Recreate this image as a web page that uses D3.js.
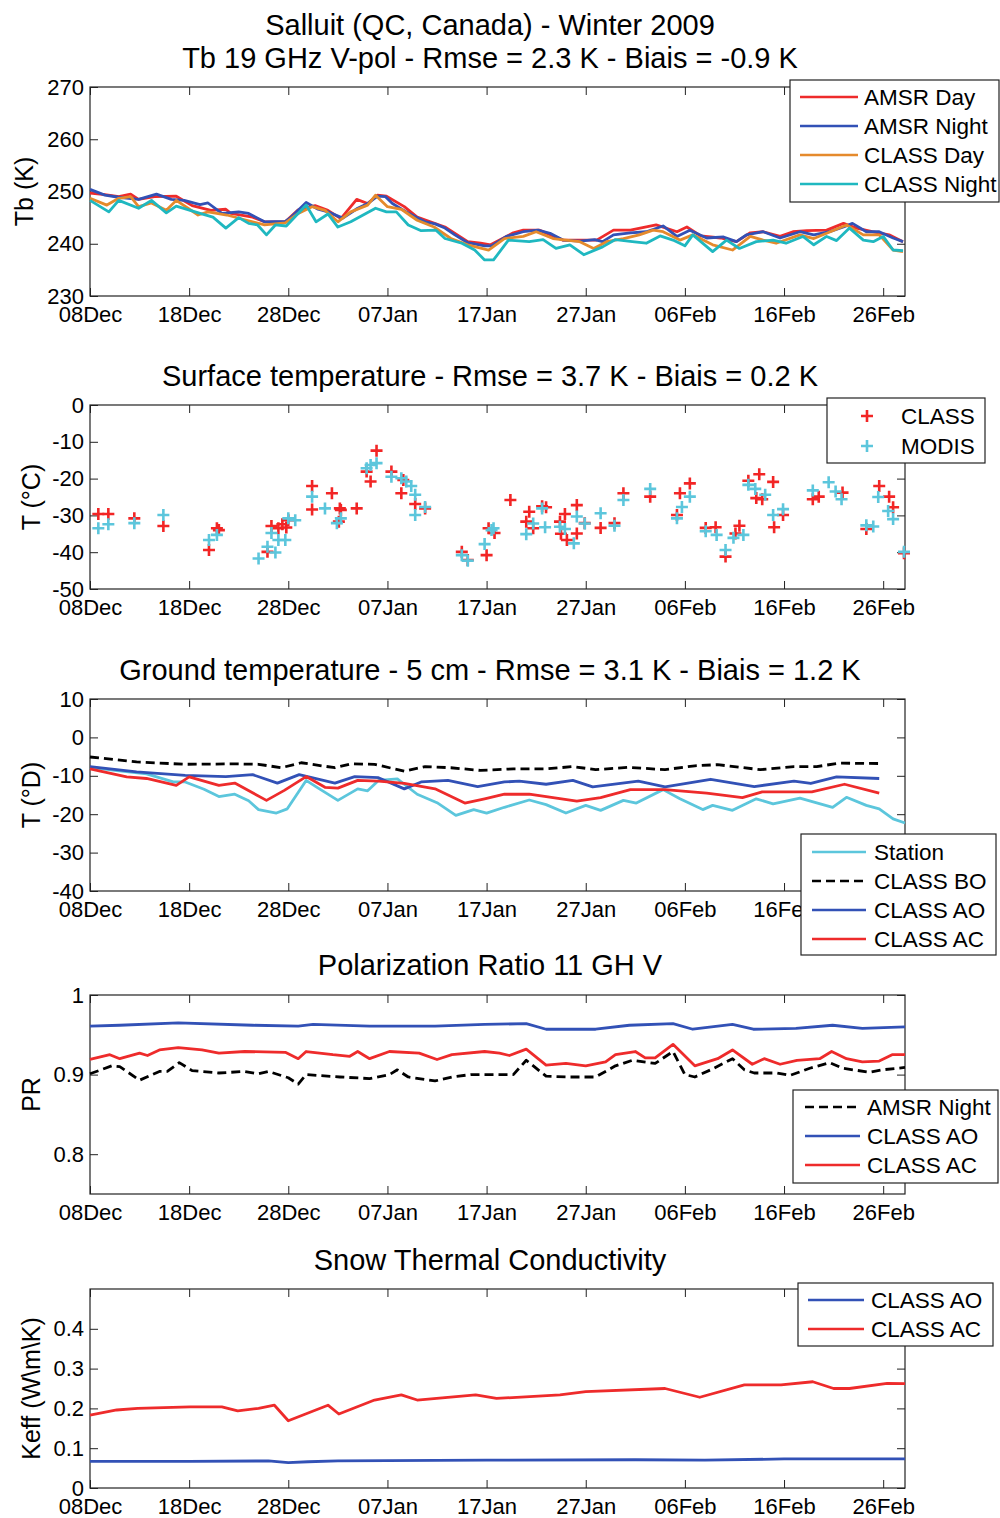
<!DOCTYPE html>
<html>
<head>
<meta charset="utf-8">
<script src="https://cdnjs.cloudflare.com/ajax/libs/d3/7.8.5/d3.min.js"></script>
<style>
    body { margin: 0; background: #fff; }
    svg text { font-family: "Liberation Sans", Arial, Helvetica, sans-serif; fill: #000; }
</style>
</head>
<body>
<div id="chart"></div>
<script>
// x values are days since 08 Dec 2008
const tickDays = [0, 10, 20, 30, 40, 50, 60, 70, 80];
const tickLabels = ["08Dec", "18Dec", "28Dec", "07Jan", "17Jan", "27Jan", "06Feb", "16Feb", "26Feb"];

// ---- panel 1 : Tb 19 GHz V-pol (K)
const tbAmsrDay = [[0,249.7],[1.5,249.4],[2.9,249.0],[4.1,249.5],[4.9,248.5],[6.5,249.0],[8.7,249.1],[10.3,247.3],[12.2,246.4],[13.7,246.6],[14.2,245.8],[16.4,245.1],[17.6,244.2],[19.7,244.2],[21,246.5],[22.7,247.3],[24,246.4],[25.3,244.8],[26.9,248.5],[28,247.7],[29,249.3],[29.9,249.1],[31.7,247.1],[33,245.1],[35.8,243.2],[38.1,240.4],[39.4,240.1],[40.4,239.8],[42.7,242.1],[43.7,242.6],[45.3,242.6],[47.7,240.7],[49.4,240.7],[51.1,240.7],[52.8,242.6],[54.5,242.6],[57.1,243.6],[59.2,242.3],[60.2,243.2],[61.6,241.5],[63.6,241.1],[65.2,240.4],[66.6,242.1],[67.9,242.3],[69.6,241.4],[70.9,242.3],[72.3,242.5],[74.3,242.6],[76,243.9],[77.3,243.0],[78.9,242.3],[80.6,241.7],[82,240.4]];
const tbAmsrNight = [[0,250.4],[1.5,249.3],[2.9,248.9],[4.9,248.5],[6.7,249.5],[8.2,248.5],[9.5,248.3],[11.1,247.5],[11.9,247.8],[13.3,245.8],[15,246.1],[16,245.8],[17.6,244.2],[19.7,244.3],[20.3,245.1],[21.8,247.9],[23,246.6],[24,246.1],[25.5,244.9],[27,246.8],[28,247.7],[29,249.1],[29.8,249.0],[30.5,247.7],[31.9,246.1],[33.8,244.2],[34.8,243.8],[35.8,243.0],[36.8,241.7],[38.1,240.2],[39.8,239.6],[40.5,239.6],[42,241.4],[43.7,242.3],[45.2,242.6],[46.4,242.0],[47.7,240.7],[49.4,240.5],[50.9,240.8],[51.7,240.4],[52.8,241.7],[54.5,242.1],[56.1,242.3],[57.8,243.4],[59.2,241.4],[60.5,242.6],[62.2,241.1],[63.9,241.3],[65.2,240.4],[66.2,241.7],[67.9,242.3],[69.6,241.1],[71.6,242.3],[73,241.7],[74.6,242.3],[76,243.2],[76.9,243.9],[78.3,242.3],[79.6,242.3],[81,241.1],[82,240.4]];
const tbClassDay = [[0,248.7],[1.7,247.4],[2.9,248.7],[4.1,249.0],[4.9,247.1],[6.2,247.8],[7.7,246.4],[8.7,248.3],[10.9,245.5],[11.9,246.1],[13.8,245.5],[15.8,244.5],[17.6,243.6],[19.7,244.0],[21,245.8],[22.4,247.1],[23.7,246.4],[25,244.2],[26.3,246.1],[28,247.4],[28.8,249.3],[30,247.1],[31.4,246.6],[33,244.5],[34.7,243.2],[36.4,241.0],[38.1,239.8],[40.2,238.8],[41.8,241.0],[43.7,241.4],[45,242.3],[46.7,241.0],[48,240.7],[49.4,240.4],[50.8,239.1],[52.1,240.4],[53.8,241.0],[55.4,241.7],[56.8,242.6],[57.8,242.3],[59.5,240.7],[60.8,241.7],[62.8,239.8],[64.8,238.8],[66.6,241.4],[67.9,240.7],[69.2,240.1],[71.6,241.7],[73,241.0],[74.3,242.0],[76.3,243.6],[78,241.7],[79.6,241.7],[81,238.8],[82,238.5]];
const tbClassNight = [[0,248.3],[1.9,246.1],[2.9,248.3],[4.9,246.8],[6.2,248.3],[7.7,245.9],[8.7,247.2],[11.1,245.8],[12.4,245.1],[13.7,243.0],[15,245.0],[16,243.9],[16.9,243.6],[17.8,241.7],[18.7,243.6],[19.8,243.4],[21.8,247.4],[22.8,244.2],[24,245.7],[25,243.2],[26.3,244.2],[28.8,246.8],[29.9,246.1],[30.9,246.1],[32.1,243.6],[33.4,242.5],[34.9,242.6],[35.8,241.0],[37.5,240.1],[38.8,238.8],[39.8,236.9],[40.7,236.9],[42.2,240.7],[44.3,240.4],[45.7,240.8],[47,239.1],[48.4,239.8],[49.8,237.9],[51.7,239.4],[53,240.8],[54.7,240.4],[56.1,240.1],[57.5,241.5],[58.8,240.7],[60,239.6],[60.8,241.7],[62.8,238.5],[64.2,240.7],[65.5,239.1],[67.2,240.4],[68.9,240.7],[70.2,240.1],[71.9,241.4],[73,239.8],[74.3,241.4],[75.3,240.6],[76.6,243.0],[78,240.7],[79,240.4],[80,241.4],[81,238.8],[82,238.7]];

// ---- panel 2 : surface temperature (°C)
const sfcClass = [[0.84,-29.6],[1.85,-29.6],[4.47,-30.8],[7.4,-32.9],[12.0,-39.4],[12.8,-33.5],[13.0,-34.0],[17.9,-39.9],[18.3,-32.9],[19.0,-33.5],[19.4,-32.4],[19.8,-33.3],[20.0,-31.3],[22.4,-22.0],[22.4,-28.4],[24.4,-24.0],[25.2,-28.1],[25.3,-28.5],[25.1,-31.7],[26.9,-28.1],[27.9,-18.1],[28.3,-20.8],[28.9,-12.4],[30.4,-18.1],[31.4,-24.0],[31.6,-20.4],[32.8,-26.9],[33.8,-28.1],[37.5,-39.9],[38.1,-42.1],[40.0,-40.8],[40.2,-33.5],[40.8,-34.8],[42.4,-25.8],[44.0,-31.7],[44.3,-29.0],[44.7,-33.5],[45.6,-27.5],[46.0,-27.8],[47.4,-31.7],[47.9,-29.6],[47.5,-35.0],[48.1,-36.7],[49.1,-27.2],[49.1,-34.9],[49.9,-32.1],[51.5,-33.4],[52.9,-32.1],[53.8,-24.0],[56.5,-24.9],[59.2,-29.9],[59.5,-24.0],[60.5,-21.3],[62.1,-33.4],[63.1,-33.2],[64.1,-41.2],[65.1,-34.9],[65.5,-32.8],[66.4,-20.6],[67.5,-18.8],[67.2,-25.3],[67.8,-25.6],[68.9,-20.9],[69.0,-33.2],[69.9,-29.9],[72.9,-25.6],[73.5,-24.9],[75.9,-23.8],[78.3,-33.7],[79.6,-22.0],[80.6,-24.9],[81.0,-27.8],[82.1,-40.3]];
const sfcModis = [[0.84,-33.5],[1.85,-32.4],[4.47,-32.1],[7.4,-29.9],[12.0,-36.7],[12.8,-35.3],[17.0,-41.7],[17.9,-38.5],[18.7,-40.1],[18.3,-34.8],[19.0,-36.7],[19.7,-36.7],[20.0,-30.8],[20.7,-31.3],[22.4,-24.9],[23.7,-28.1],[24.9,-32.1],[25.3,-30.8],[27.9,-17.2],[28.3,-16.3],[28.9,-15.8],[30.4,-19.5],[31.4,-19.9],[31.9,-20.8],[32.4,-22.0],[32.8,-24.4],[32.8,-29.9],[33.8,-27.7],[37.5,-40.8],[38.1,-42.3],[39.8,-37.8],[40.5,-34.0],[40.7,-33.5],[44.0,-35.1],[44.7,-32.2],[45.6,-28.1],[45.9,-33.2],[47.4,-33.1],[47.9,-33.7],[48.8,-37.6],[49.1,-30.3],[49.9,-32.2],[51.5,-29.4],[52.9,-32.8],[53.8,-25.8],[56.5,-22.8],[59.2,-30.8],[59.7,-27.7],[60.5,-24.9],[62.1,-34.3],[63.2,-35.3],[64.1,-39.4],[64.9,-36.1],[65.9,-35.3],[66.4,-21.7],[67.1,-22.8],[68.1,-24.4],[68.9,-29.9],[69.9,-28.3],[72.9,-23.2],[74.5,-21.0],[75.2,-23.5],[75.8,-25.6],[78.3,-32.7],[79.0,-33.0],[79.5,-25.0],[80.5,-28.8],[81.0,-31.0],[82.1,-39.9]];

// ---- panel 3 : ground temperature at 5 cm
const gtStation = [[0,-7.8],[2.5,-8.6],[5.7,-9.5],[8.4,-11.6],[9.6,-11.6],[11.5,-13.5],[13,-15.4],[14.6,-14.8],[16,-16.5],[17,-18.8],[18.8,-19.7],[19.9,-18.6],[21.8,-11.2],[22.9,-13.0],[25,-16.4],[27,-13.4],[28,-13.9],[29.1,-11.2],[31,-10.8],[33,-14.8],[35,-17.0],[36.9,-20.3],[38.7,-18.8],[40,-19.7],[41.8,-18.2],[44.3,-16.3],[46,-17.5],[48,-19.7],[50,-17.7],[51.5,-19.0],[53.8,-16.4],[55.1,-17.1],[57.8,-13.6],[59.5,-16.0],[61.8,-18.8],[62.8,-17.7],[64.8,-19.0],[67.2,-16.0],[68.9,-17.3],[71.6,-15.8],[74.9,-18.2],[76.3,-15.6],[78.3,-17.7],[79.6,-18.6],[81,-21.2],[82.2,-22.3]];
const gtClassBO = [[0,-5.1],[4.7,-6.4],[9.6,-7.0],[14.6,-6.9],[17,-7.0],[19.3,-7.9],[21.3,-6.6],[24.7,-7.9],[26.3,-6.9],[28.7,-7.0],[31.7,-8.8],[33.8,-7.6],[36.4,-7.9],[39.4,-8.6],[42.7,-8.2],[46,-8.2],[48.7,-7.6],[51,-8.4],[54.3,-7.8],[58,-8.4],[61,-7.4],[63.3,-7.1],[67.6,-8.4],[71,-7.6],[73.3,-7.6],[75.6,-6.7],[79.6,-6.8]];
const gtClassAO = [[0,-7.6],[4.7,-9.0],[9.6,-9.9],[13.7,-10.2],[16.4,-9.7],[18.9,-11.9],[21.1,-9.7],[24.7,-11.9],[26.7,-10.2],[29.1,-10.5],[31.7,-13.4],[33.4,-11.6],[36.1,-11.2],[39.1,-12.8],[41.8,-11.6],[43.3,-11.4],[46,-12.2],[48.7,-11.2],[50.7,-12.9],[55.3,-11.4],[58,-12.9],[62.6,-10.9],[67,-12.8],[71,-11.4],[72.7,-12.0],[75.3,-10.3],[79.6,-10.7]];
const gtClassAC = [[0,-8.2],[3.7,-10.3],[5.7,-10.7],[8.7,-12.5],[10,-10.3],[13,-12.5],[14.6,-11.9],[17.8,-16.4],[19.6,-13.8],[21.8,-10.2],[23.7,-13.0],[25,-13.2],[27,-11.2],[29.1,-11.4],[31.7,-12.0],[34.8,-13.4],[37.8,-17.1],[39.8,-16.0],[41.8,-14.8],[44.3,-14.8],[49.1,-16.6],[51.5,-15.7],[54.5,-13.6],[58,-13.6],[62.2,-14.5],[65.8,-15.7],[67.8,-14.2],[72.8,-14.2],[76.1,-12.2],[79.6,-14.5]];

// ---- panel 4 : polarization ratio 11 GHz
const prAmsrNight = [[0,0.901],[2.2,0.911],[3,0.910],[5,0.893],[7,0.904],[7.8,0.904],[9,0.915],[10.3,0.905],[13,0.902],[15.6,0.904],[17,0.901],[18,0.904],[20,0.896],[21,0.888],[21.8,0.900],[25.2,0.897],[28.2,0.895],[30.2,0.900],[31,0.906],[32.1,0.897],[34.8,0.892],[36.5,0.897],[38.4,0.900],[42.7,0.900],[44,0.918],[46,0.898],[48.4,0.897],[51,0.897],[53,0.911],[54.7,0.918],[57,0.914],[58.8,0.929],[60,0.900],[61,0.897],[62.6,0.906],[64.8,0.920],[66,0.906],[67,0.902],[69.3,0.902],[70.6,0.899],[72.6,0.908],[74.6,0.915],[75.9,0.908],[78.6,0.903],[79.9,0.906],[82.2,0.909]];
const prClassAO = [[0,0.961],[3,0.962],[8.9,0.965],[16.4,0.962],[21,0.961],[22.5,0.963],[28.2,0.961],[34.8,0.961],[39.8,0.963],[44,0.964],[46,0.957],[51,0.957],[54.4,0.962],[58.8,0.964],[60.8,0.957],[64.8,0.963],[66.9,0.957],[71.2,0.958],[74.9,0.962],[77.9,0.958],[82.2,0.960]];
const prClassAC = [[0,0.919],[2,0.925],[3,0.920],[5,0.927],[5.8,0.924],[7,0.931],[8.9,0.934],[11.3,0.931],[13,0.927],[15.6,0.929],[19.7,0.928],[21,0.920],[21.8,0.929],[24.5,0.925],[26.2,0.923],[27,0.929],[28.2,0.920],[30.2,0.929],[33.2,0.927],[35,0.919],[36.5,0.925],[39.8,0.929],[41.3,0.927],[42.3,0.924],[44,0.932],[46,0.912],[48,0.914],[50,0.911],[52,0.916],[53,0.925],[55,0.929],[56,0.921],[57,0.921],[58.8,0.938],[61,0.911],[63.3,0.920],[64.8,0.931],[66.8,0.913],[68,0.920],[69.6,0.913],[71.3,0.918],[73.6,0.920],[74.8,0.929],[76.3,0.920],[77.9,0.916],[79.6,0.917],[80.9,0.925],[82.2,0.925]];

// ---- panel 5 : snow thermal conductivity
const keffClassAO = [[0,0.067],[10,0.067],[18,0.068],[20,0.064],[22,0.066],[25,0.068],[40,0.070],[55,0.071],[62,0.070],[70,0.073],[82.2,0.073]];
const keffClassAC = [[0,0.183],[2.7,0.196],[4.8,0.200],[10.1,0.204],[13.3,0.204],[14.9,0.194],[17,0.200],[18.6,0.208],[20,0.169],[24,0.208],[25.1,0.186],[28.7,0.221],[31.4,0.234],[33,0.221],[38.9,0.234],[41,0.225],[47.4,0.234],[50,0.242],[58,0.250],[61.5,0.228],[66,0.259],[69.7,0.259],[72.9,0.267],[75,0.250],[76.6,0.250],[80.4,0.263],[82.2,0.262]];

const cRed = "#ee2b2b", cBlue = "#3251b6", cOrange = "#e58a2c", cTeal = "#1fb8c0", cSky = "#5cc6dc";

const svg = d3.select("#chart").append("svg")
    .attr("width", 1000)
    .attr("height", 1518);

const x = d3.scaleLinear().domain([0, 82.2]).range([90, 905]);

function makePanel(cfg) {
    let g = svg.append("g");
    let y = d3.scaleLinear().domain(cfg.yDomain).range([cfg.bottom, cfg.top]);

    // axes, matlab style ticks pointing inward on all 4 sides
    g.append("g").attr("class", "axis")
        .attr("transform", "translate(0," + cfg.bottom + ")")
        .call(d3.axisBottom(x).tickValues(tickDays).tickFormat((d, i) => tickLabels[i])
            .tickSizeInner(-8).tickSizeOuter(0).tickPadding(10));
    g.append("g").attr("class", "axis")
        .attr("transform", "translate(0," + cfg.top + ")")
        .call(d3.axisTop(x).tickValues(tickDays).tickFormat("").tickSizeInner(-8).tickSizeOuter(0));
    g.append("g").attr("class", "axis")
        .attr("transform", "translate(90,0)")
        .call(d3.axisLeft(y).tickValues(cfg.yTicks).tickFormat(d => String(d)).tickSizeInner(-8).tickSizeOuter(0).tickPadding(6));
    g.append("g").attr("class", "axis")
        .attr("transform", "translate(905,0)")
        .call(d3.axisRight(y).tickValues(cfg.yTicks).tickFormat("").tickSizeInner(-8).tickSizeOuter(0));

    g.selectAll(".axis .domain").remove();
    g.selectAll(".axis line").attr("stroke", "#222");
    g.selectAll(".axis text").attr("font-size", 22).attr("fill", "#000")
        .style("font-family", "'Liberation Sans', Arial, sans-serif");

    g.append("rect")
        .attr("x", 90).attr("y", cfg.top)
        .attr("width", 815).attr("height", cfg.bottom - cfg.top)
        .attr("fill", "none").attr("stroke", "#222").attr("stroke-width", 1.2);

    cfg.titles.forEach((t, i) => {
        g.append("text")
            .attr("x", 490).attr("y", cfg.titleY + i * 33)
            .attr("text-anchor", "middle")
            .attr("font-size", 29)
            .text(t);
    });

    let midY = (cfg.top + cfg.bottom) / 2;
    g.append("text")
        .attr("transform", "translate(" + cfg.labelX + "," + midY + ") rotate(-90)")
        .attr("text-anchor", "middle")
        .attr("font-size", 25)
        .text(cfg.ylabel);

    return { g: g, y: y };
}

function drawLine(p, data, color, dash) {
    let line = d3.line().x(d => x(d[0])).y(d => p.y(d[1]));
    p.g.append("path")
        .datum(data)
        .attr("d", line)
        .attr("fill", "none")
        .attr("stroke", color)
        .attr("stroke-width", 2.8)
        .attr("stroke-linejoin", "round")
        .attr("stroke-dasharray", dash ? "9,5" : null);
}

function drawCrosses(p, data, color) {
    p.g.append("g").selectAll("path")
        .data(data)
        .enter()
        .append("path")
        .attr("transform", d => "translate(" + x(d[0]) + "," + p.y(d[1]) + ")")
        .attr("d", "M-6,0H6M0,-6V6")
        .attr("stroke", color)
        .attr("stroke-width", 2.6)
        .attr("fill", "none");
}

// legend box: items drawn top to bottom
function drawLegend(box, items) {
    let lg = svg.append("g");
    lg.append("rect")
        .attr("x", box.x).attr("y", box.y)
        .attr("width", box.w).attr("height", box.h)
        .attr("fill", "#fff").attr("stroke", "#222").attr("stroke-width", 1.2);

    items.forEach((it, i) => {
        let cy = box.y + box.first + i * box.step;
        if (it.cross) {
            lg.append("path")
                .attr("transform", "translate(" + (box.x + 40) + "," + cy + ")")
                .attr("d", "M-6,0H6M0,-6V6")
                .attr("stroke", it.color).attr("stroke-width", 2.6);
        } else {
            lg.append("line")
                .attr("x1", box.x + box.l0).attr("x2", box.x + box.l1)
                .attr("y1", cy).attr("y2", cy)
                .attr("stroke", it.color).attr("stroke-width", 2.4)
                .attr("stroke-dasharray", it.dash ? "9,5" : null);
        }
        lg.append("text")
            .attr("x", box.x + box.tx).attr("y", cy)
            .attr("dy", "0.36em")
            .attr("font-size", 22.5)
            .text(it.label);
    });
}

// panel 1
let p1 = makePanel({top: 87, bottom: 296, yDomain: [230, 270], yTicks: [230, 240, 250, 260, 270],
    titles: ["Salluit (QC, Canada) - Winter 2009", "Tb 19 GHz V-pol - Rmse = 2.3 K - Biais = -0.9 K"],
    titleY: 35, ylabel: "Tb (K)", labelX: 33});
drawLine(p1, tbAmsrDay, cRed);
drawLine(p1, tbAmsrNight, cBlue);
drawLine(p1, tbClassDay, cOrange);
drawLine(p1, tbClassNight, cTeal);
drawLegend({x: 790, y: 80, w: 209, h: 122, first: 17, step: 29, l0: 10, l1: 68, tx: 74}, [
    {label: "AMSR Day", color: cRed},
    {label: "AMSR Night", color: cBlue},
    {label: "CLASS Day", color: cOrange},
    {label: "CLASS Night", color: cTeal}
]);

// panel 2
let p2 = makePanel({top: 405, bottom: 589, yDomain: [-50, 0], yTicks: [-50, -40, -30, -20, -10, 0],
    titles: ["Surface temperature - Rmse = 3.7 K - Biais = 0.2 K"],
    titleY: 386, ylabel: "T (°C)", labelX: 40});
drawCrosses(p2, sfcClass, "#f22525");
drawCrosses(p2, sfcModis, cSky);
drawLegend({x: 827, y: 398, w: 158, h: 65, first: 18, step: 30, tx: 74}, [
    {label: "CLASS", color: "#f22525", cross: true},
    {label: "MODIS", color: cSky, cross: true}
]);

// panel 3
let p3 = makePanel({top: 699, bottom: 891, yDomain: [-40, 10], yTicks: [-40, -30, -20, -10, 0, 10],
    titles: ["Ground temperature - 5 cm - Rmse = 3.1 K - Biais = 1.2 K"],
    titleY: 680, ylabel: "T (°D)", labelX: 40});
drawLine(p3, gtStation, cSky);
drawLine(p3, gtClassBO, "#000", true);
drawLine(p3, gtClassAO, cBlue);
drawLine(p3, gtClassAC, cRed);
drawLegend({x: 801, y: 834, w: 195, h: 121, first: 18, step: 29, l0: 11, l1: 65, tx: 73}, [
    {label: "Station", color: cSky},
    {label: "CLASS BO", color: "#000", dash: true},
    {label: "CLASS AO", color: cBlue},
    {label: "CLASS AC", color: cRed}
]);

// panel 4
let p4 = makePanel({top: 995, bottom: 1194, yDomain: [0.75, 1], yTicks: [0.8, 0.9, 1],
    titles: ["Polarization Ratio 11 GH V"],
    titleY: 975, ylabel: "PR", labelX: 40});
drawLine(p4, prAmsrNight, "#000", true);
drawLine(p4, prClassAO, cBlue);
drawLine(p4, prClassAC, cRed);
drawLegend({x: 793, y: 1090, w: 205, h: 93, first: 17, step: 29, l0: 12, l1: 67, tx: 74}, [
    {label: "AMSR Night", color: "#000", dash: true},
    {label: "CLASS AO", color: cBlue},
    {label: "CLASS AC", color: cRed}
]);

// panel 5
let p5 = makePanel({top: 1289, bottom: 1488, yDomain: [0, 0.5], yTicks: [0, 0.1, 0.2, 0.3, 0.4],
    titles: ["Snow Thermal Conductivity"],
    titleY: 1270, ylabel: "Keff (W\\m\\K)", labelX: 40});
drawLine(p5, keffClassAO, cBlue);
drawLine(p5, keffClassAC, cRed);
drawLegend({x: 798, y: 1283, w: 195, h: 63, first: 17, step: 29, l0: 10, l1: 66, tx: 73}, [
    {label: "CLASS AO", color: cBlue},
    {label: "CLASS AC", color: cRed}
]);
</script>
</body>
</html>
